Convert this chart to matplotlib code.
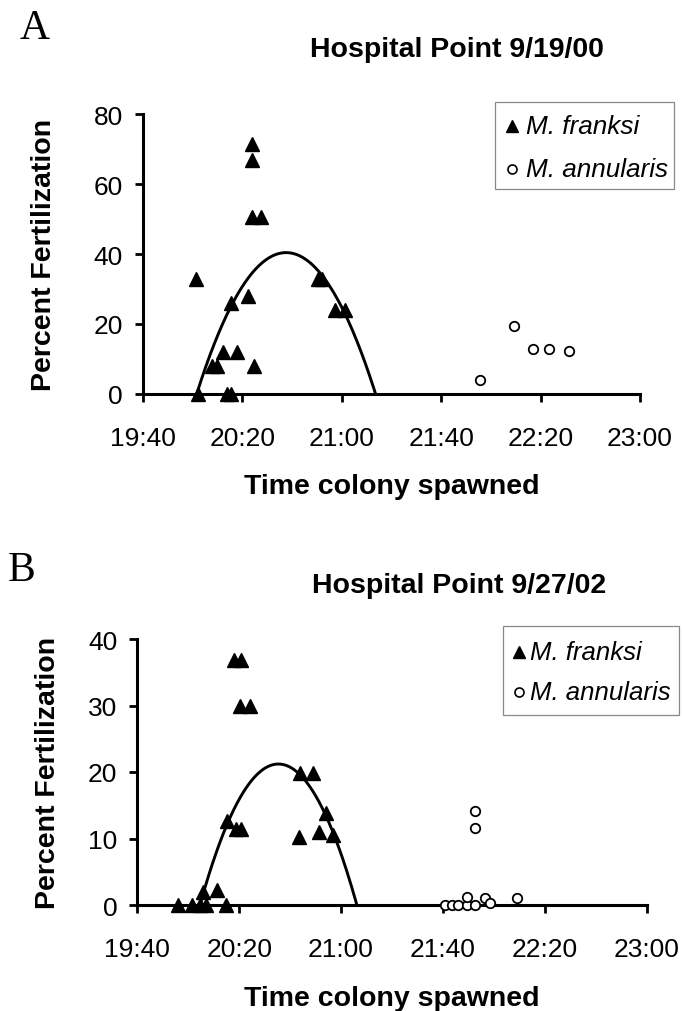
import numpy as np
import matplotlib
matplotlib.use('Agg')
import matplotlib.pyplot as plt
from matplotlib.patches import Rectangle
from matplotlib.lines import Line2D

plt.rcParams['font.family'] = ['Liberation Sans', 'DejaVu Sans']


def to_min(s):
    parts = s.split(':')
    h, m = int(parts[0]), int(parts[1])
    sec = int(parts[2]) if len(parts) > 2 else 0
    return h * 60 + m + sec / 60.0


# ---------------- data ----------------
x_tick_labels = ["19:40", "20:20", "21:00", "21:40", "22:20", "23:00"]

# Panel A
titleA = "Hospital Point 9/19/00"
yticksA = [0, 20, 40, 60, 80]
franksiA_time = ["20:01:12", "20:02:00", "20:07:36", "20:09:54", "20:12:18",
                 "20:13:42", "20:15:24", "20:15:24", "20:17:42", "20:22:24",
                 "20:23:54", "20:23:54", "20:23:54", "20:27:24", "20:24:42",
                 "20:50:36", "20:51:54", "20:57:18", "21:01:18"]
franksiA_pct = [33, 0, 8, 8, 12,
                0, 0, 26, 12, 28,
                71.5, 66.8, 50.5, 50.5, 8,
                33, 33, 24, 24]
annularisA_time = ["21:55:36", "22:09:18", "22:17:06", "22:23:30", "22:31:24"]
annularisA_pct = [4, 19.3, 13, 13, 12.4]
fitA_roots = ["20:01:36", "21:13:36"]
fitA_peak = 40.4

# Panel B
titleB = "Hospital Point 9/27/02"
yticksB = [0, 10, 20, 30, 40]
franksiB_time = ["19:56:00", "20:01:24", "20:04:30", "20:07:00", "20:05:54",
                 "20:11:24", "20:14:48", "20:15:06", "20:18:48", "20:20:42",
                 "20:18:00", "20:20:42", "20:20:18", "20:24:12", "20:43:30",
                 "20:43:54", "20:49:06", "20:51:30", "20:54:06", "20:57:00"]
franksiB_pct = [0, 0, 0, 0, 1.9,
                2.2, 0, 12.7, 11.4, 11.4,
                36.9, 36.9, 29.9, 29.9, 10.2,
                19.8, 19.8, 11.0, 13.8, 10.5]
annularisB_time = ["21:40:54", "21:43:30", "21:46:06", "21:49:24", "21:49:24",
                   "21:52:36", "21:52:36", "21:52:36", "21:56:36", "21:58:18",
                   "22:09:00"]
annularisB_pct = [0, 0, 0, 0, 1.2,
                  0, 14.2, 11.6, 1.1, 0.3,
                  1.0]
fitB_roots = ["20:04:36", "21:06:12"]
fitB_peak = 21.2

legend_labels = ["M. franksi", "M. annularis"]

# ---------------- figure ----------------
W, H = 682, 1012
fig = plt.figure(figsize=(W / 100, H / 100), dpi=100)


def fx(px):
    return px / W


def fy(py):
    return 1 - py / H


def make_panel(rect_px, ymax, yticks, f_t, f_p, a_t, a_p, roots, peak,
               ylab_x, xlab_top):
    l, t, r, b = rect_px
    ax = fig.add_axes([fx(l), fy(b), fx(r) - fx(l), (b - t) / H])
    xt = [to_min(s) for s in x_tick_labels]
    ax.set_xlim(xt[0], xt[-1])
    ax.set_ylim(0, ymax)
    ax.set_xticks(xt)
    ax.set_xticklabels(x_tick_labels)
    ax.set_yticks(yticks)
    for s in ['top', 'right']:
        ax.spines[s].set_visible(False)
    for s in ['left', 'bottom']:
        ax.spines[s].set_linewidth(2.2)
    ax.tick_params(axis='both', direction='out', length=6, width=2,
                   labelsize=19)
    ax.tick_params(axis='x', pad=17)
    ax.tick_params(axis='y', pad=8.5)

    r0, r1 = to_min(roots[0]), to_min(roots[1])
    c = (r0 + r1) / 2
    hw = (r1 - r0) / 2
    tt = np.linspace(r0, r1, 300)
    yy = peak * (1 - ((tt - c) / hw) ** 2)
    ax.plot(tt, yy, color='black', lw=2.1, zorder=3)

    ax.plot([to_min(s) for s in f_t], f_p, linestyle='none', marker='^',
            ms=10, color='black', clip_on=False, zorder=5)
    ax.plot([to_min(s) for s in a_t], a_p, linestyle='none', marker='o',
            ms=6.8, mfc='white', mec='black', mew=1.3, clip_on=False,
            zorder=5)

    ax.set_ylabel("Percent Fertilization", fontsize=20.5, fontweight='bold')
    ax.yaxis.set_label_coords((ylab_x - l) / (r - l), 0.5)
    ax.set_xlabel("Time colony spawned", fontsize=20.5, fontweight='bold',
                  va='top')
    ax.xaxis.set_label_coords(0.5, (b - xlab_top) / (b - t))
    return ax


def legend_box(box_px, rows_py, marker_px, text_px, fs):
    l, t, r, b = box_px
    fig.patches.append(Rectangle((fx(l), fy(b)), fx(r) - fx(l), (b - t) / H,
                                 transform=fig.transFigure, fill=False,
                                 edgecolor='#888888', lw=0.9))
    styles = [dict(marker='^', ms=8.5, color='black'),
              dict(marker='o', ms=6.5, mfc='white', mec='black', mew=1.2)]
    for ry, lab, st in zip(rows_py, legend_labels, styles):
        fig.add_artist(Line2D([fx(marker_px)], [fy(ry)], linestyle='none',
                              transform=fig.transFigure, **st))
        fig.text(fx(text_px), fy(ry), lab, fontsize=fs, style='italic',
                 ha='left', va='center')


# Panel A
make_panel((143, 115, 640, 395), 80, yticksA, franksiA_time, franksiA_pct,
           annularisA_time, annularisA_pct, fitA_roots, fitA_peak,
           ylab_x=57, xlab_top=474)
fig.text(fx(457), fy(57), titleA, fontsize=20.5, fontweight='bold',
         ha='center', va='baseline')
fig.text(fx(20), fy(39), "A", fontsize=30, family='Liberation Serif',
         ha='left', va='baseline')
legend_box((495, 103, 674, 190), [126.7, 170], 511.7, 526, 18.8)

# Panel B
make_panel((137.3, 640, 646.7, 906), 40, yticksB, franksiB_time, franksiB_pct,
           annularisB_time, annularisB_pct, fitB_roots, fitB_peak,
           ylab_x=61, xlab_top=986)
fig.text(fx(459), fy(592.7), titleB, fontsize=20.5, fontweight='bold',
         ha='center', va='baseline')
fig.text(fx(8), fy(581), "B", fontsize=30, family='Liberation Serif',
         ha='left', va='baseline')
legend_box((502.7, 627, 679, 716), [653, 693.3], 519, 530, 18.5)

fig.savefig("out.png", dpi=100)
